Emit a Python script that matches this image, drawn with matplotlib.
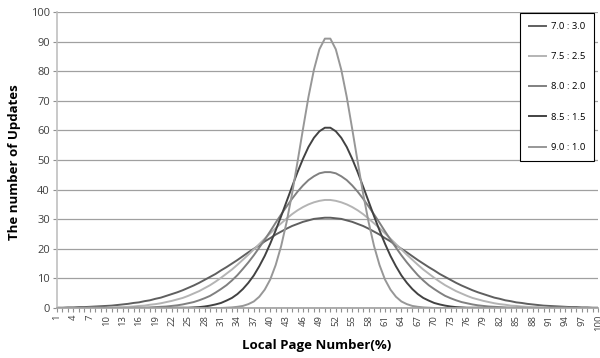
import numpy as np
import matplotlib
matplotlib.use("Agg")
import matplotlib.pyplot as plt

plt.rcParams['font.family'] = ['Open Sans', 'DejaVu Sans']

pages = np.arange(1, 101)

r70_30 = [0.1, 0.1, 0.2, 0.2, 0.3, 0.3, 0.4, 0.5, 0.6, 0.7, 0.8, 1.0, 1.2, 1.4, 1.7, 1.9, 2.3, 2.6, 3.1, 3.5,
          4.1, 4.7, 5.3, 6.0, 6.8, 7.6, 8.5, 9.5, 10.5, 11.5, 12.7, 13.8, 15.0, 16.2, 17.5, 18.8, 20.0, 21.2, 22.5, 23.6,
          24.8, 25.8, 26.8, 27.7, 28.4, 29.1, 29.6, 30.1, 30.3, 30.5,
          30.5, 30.3, 30.1, 29.6, 29.1, 28.4, 27.7, 26.8, 25.8, 24.8, 23.6, 22.5, 21.2, 20.0, 18.8, 17.5, 16.2, 15.0, 13.8, 12.7,
          11.5, 10.5, 9.5, 8.5, 7.6, 6.8, 6.0, 5.3, 4.7, 4.1, 3.5, 3.1, 2.6, 2.3, 1.9, 1.7, 1.4, 1.2, 1.0, 0.8,
          0.7, 0.6, 0.5, 0.4, 0.3, 0.3, 0.2, 0.2, 0.1, 0.1]
r75_25 = [0.0, 0.0, 0.0, 0.0, 0.0, 0.0, 0.1, 0.1, 0.1, 0.1, 0.2, 0.3, 0.3, 0.4, 0.5, 0.7, 0.8, 1.1, 1.3, 1.6,
          2.0, 2.4, 2.9, 3.4, 4.1, 4.9, 5.7, 6.7, 7.7, 8.9, 10.2, 11.6, 13.0, 14.6, 16.3, 18.0, 19.8, 21.6, 23.4, 25.2,
          27.0, 28.6, 30.2, 31.7, 33.0, 34.1, 35.0, 35.7, 36.2, 36.5,
          36.5, 36.2, 35.7, 35.0, 34.1, 33.0, 31.7, 30.2, 28.6, 27.0, 25.2, 23.4, 21.6, 19.8, 18.0, 16.3, 14.6, 13.0, 11.6, 10.2,
          8.9, 7.7, 6.7, 5.7, 4.9, 4.1, 3.4, 2.9, 2.4, 2.0, 1.6, 1.3, 1.1, 0.8, 0.7, 0.5, 0.4, 0.3, 0.3, 0.2,
          0.1, 0.1, 0.1, 0.1, 0.0, 0.0, 0.0, 0.0, 0.0, 0.0]
r80_20 = [0.0, 0.0, 0.0, 0.0, 0.0, 0.0, 0.0, 0.0, 0.0, 0.0, 0.0, 0.0, 0.0, 0.0, 0.1, 0.1, 0.1, 0.2, 0.3, 0.4,
          0.5, 0.7, 0.9, 1.2, 1.6, 2.0, 2.6, 3.3, 4.1, 5.2, 6.4, 7.7, 9.3, 11.1, 13.2, 15.4, 17.8, 20.4, 23.1, 25.9,
          28.8, 31.6, 34.3, 36.9, 39.3, 41.4, 43.2, 44.5, 45.5, 45.9,
          45.9, 45.5, 44.5, 43.2, 41.4, 39.3, 36.9, 34.3, 31.6, 28.8, 25.9, 23.1, 20.4, 17.8, 15.4, 13.2, 11.1, 9.3, 7.7, 6.4,
          5.2, 4.1, 3.3, 2.6, 2.0, 1.6, 1.2, 0.9, 0.7, 0.5, 0.4, 0.3, 0.2, 0.1, 0.1, 0.1, 0.0, 0.0, 0.0, 0.0,
          0.0, 0.0, 0.0, 0.0, 0.0, 0.0, 0.0, 0.0, 0.0, 0.0]
r85_15 = [0.0, 0.0, 0.0, 0.0, 0.0, 0.0, 0.0, 0.0, 0.0, 0.0, 0.0, 0.0, 0.0, 0.0, 0.0, 0.0, 0.0, 0.0, 0.0, 0.0,
          0.0, 0.0, 0.1, 0.1, 0.1, 0.2, 0.3, 0.5, 0.8, 1.2, 1.7, 2.5, 3.4, 4.7, 6.4, 8.5, 11.0, 14.1, 17.6, 21.7,
          26.2, 31.0, 36.0, 41.0, 45.9, 50.4, 54.4, 57.5, 59.7, 60.9,
          60.9, 59.7, 57.5, 54.4, 50.4, 45.9, 41.0, 36.0, 31.0, 26.2, 21.7, 17.6, 14.1, 11.0, 8.5, 6.4, 4.7, 3.4, 2.5, 1.7,
          1.2, 0.8, 0.5, 0.3, 0.2, 0.1, 0.1, 0.1, 0.0, 0.0, 0.0, 0.0, 0.0, 0.0, 0.0, 0.0, 0.0, 0.0, 0.0, 0.0,
          0.0, 0.0, 0.0, 0.0, 0.0, 0.0, 0.0, 0.0, 0.0, 0.0]
r90_10 = [0.0, 0.0, 0.0, 0.0, 0.0, 0.0, 0.0, 0.0, 0.0, 0.0, 0.0, 0.0, 0.0, 0.0, 0.0, 0.0, 0.0, 0.0, 0.0, 0.0,
          0.0, 0.0, 0.0, 0.0, 0.0, 0.0, 0.0, 0.0, 0.0, 0.0, 0.0, 0.1, 0.2, 0.4, 0.7, 1.3, 2.2, 3.8, 6.2, 9.6,
          14.5, 20.9, 29.0, 38.6, 49.4, 60.5, 71.3, 80.5, 87.4, 91.0,
          91.0, 87.4, 80.5, 71.3, 60.5, 49.4, 38.6, 29.0, 20.9, 14.5, 9.6, 6.2, 3.8, 2.2, 1.3, 0.7, 0.4, 0.2, 0.1, 0.0,
          0.0, 0.0, 0.0, 0.0, 0.0, 0.0, 0.0, 0.0, 0.0, 0.0, 0.0, 0.0, 0.0, 0.0, 0.0, 0.0, 0.0, 0.0, 0.0, 0.0,
          0.0, 0.0, 0.0, 0.0, 0.0, 0.0, 0.0, 0.0, 0.0, 0.0]

series = [r70_30, r75_25, r80_20, r85_15, r90_10]
labels = ["7.0 : 3.0", "7.5 : 2.5", "8.0 : 2.0", "8.5 : 1.5", "9.0 : 1.0"]
colors = ["#5f5f5f", "#b4b4b4", "#808080", "#424242", "#979797"]

fig = plt.figure(figsize=(6, 3.58), dpi=100)
ax = fig.add_axes([0.095, 0.1397, 0.902, 0.8268])

for vals, lab, col in zip(series, labels, colors):
    ax.plot(pages, vals, color=col, lw=1.4, label=lab)

ax.set_xlim(1, 100)
ax.set_ylim(0, 100)
ax.set_yticks(range(0, 101, 10))
ax.set_xticks(pages[::3])
ax.set_xticks(pages, minor=True)
ax.tick_params(axis='x', which='both', direction='out', length=3, width=0.8, color='#909090',
               labelsize=6.8, labelcolor='#404040', labelrotation=90, pad=2)
ax.tick_params(axis='y', direction='out', length=3, width=0.8, color='#909090',
               labelsize=8, labelcolor='#404040', pad=2)
ax.grid(axis='y', color='#a0a0a0', lw=0.9)
ax.set_axisbelow(True)
for s in ['top', 'right']:
    ax.spines[s].set_visible(False)
ax.spines['left'].set_color('#c0c0c0')
ax.spines['left'].set_linewidth(1.2)
ax.spines['bottom'].set_color('#a0a0a0')
ax.spines['bottom'].set_linewidth(1.2)

fig.text(0.024, 0.547, "The number of Updates", rotation=90, ha='center', va='center',
         fontsize=9.5, fontweight='bold')
fig.text(0.527, 0.036, "Local Page Number(%)", ha='center', va='center',
         fontsize=9.5, fontweight='bold')

leg = ax.legend(loc='upper right', bbox_to_anchor=(594 / 600, 1 - 13 / 358),
                bbox_transform=fig.transFigure, borderaxespad=0, fontsize=6.8,
                fancybox=False, framealpha=1, edgecolor='black', handlelength=1.8,
                handletextpad=0.5, labelspacing=2.25, borderpad=0.95)
leg.get_frame().set_linewidth(0.8)

fig.savefig("out.png")
